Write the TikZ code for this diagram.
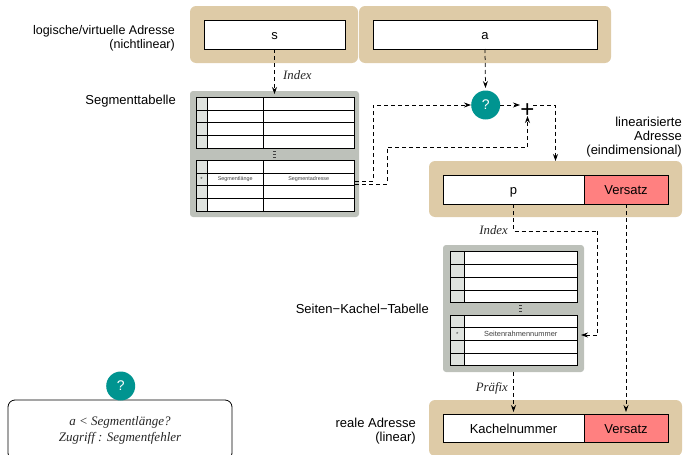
\documentclass[tikz,border=0pt]{standalone}
\usepackage{fontspec}
\setmainfont{Liberation Sans}
\newfontfamily\serifit{Liberation Serif}[ItalicFont=* Italic]
\usetikzlibrary{arrows.meta}
\definecolor{bandcol}{RGB}{222,203,167}
\definecolor{graycol}{RGB}{189,193,186}
\definecolor{lightcol}{RGB}{223,227,223}
\definecolor{tealcol}{RGB}{0,148,144}
\definecolor{redcol}{RGB}{255,128,128}
\newcommand{\bx}[7]{% name, x1, y1, x2, y2, style, text
  \pgfmathsetmacro{\bxcx}{(#2+#4)/2}\pgfmathsetmacro{\bxcy}{(#3+#5)/2}
  \pgfmathsetmacro{\bxw}{#4-#2}\pgfmathsetmacro{\bxh}{#5-#3}
  \node[#6,minimum width=\bxw pt,minimum height=\bxh pt] (#1) at (\bxcx,\bxcy) {#7};}
\tikzset{
  x=1pt,y=-1pt,
  band/.style={fill=bandcol,rounded corners=6pt,inner sep=0pt,outer sep=0pt},
  tablebg/.style={fill=graycol,rounded corners=3pt,inner sep=0pt,outer sep=0pt},
  field/.style={draw=black,line width=0.8pt,fill=white,inner sep=0pt,outer sep=0pt,text height=10pt,text depth=0pt,font=\fontsize{13}{15}\selectfont},
  offsetfield/.style={field,fill=redcol},
  cellkey/.style={draw=black,line width=0.7pt,fill=lightcol,inner sep=0pt,outer sep=0pt,font=\fontsize{6}{7}\selectfont,text=black!75},
  cell/.style={draw=black,line width=0.7pt,fill=white,inner sep=0pt,outer sep=0pt,text=black!75},
  quest/.style={circle,fill=tealcol,text=white,minimum size=29pt,inner sep=0pt,font=\fontsize{14}{16}\selectfont},
  lbl/.style={align=right,anchor=east,inner sep=0pt,font=\fontsize{13}{14}\selectfont},
  itl/.style={inner sep=0pt,font=\serifit\itshape\fontsize{12.8}{14}\selectfont,text=black!85},
  conn/.style={draw=black,line width=0.75pt,dash pattern=on 4pt off 3pt},
  connarrow/.style={conn,-{Stealth[length=7pt,width=5pt,inset=2.5pt]}},
  dotmark/.style={fill=black!75},
}
\begin{document}
\begin{tikzpicture}
\useasboundingbox (0,0) rectangle (683,455);
\clip (0,0) rectangle (683,455);
% address bands
\bx{bands}{190}{6}{358}{63}{band}{}
\bx{banda}{359}{6}{611}{63}{band}{}
\bx{fs}{204}{20}{345}{49}{field}{s}
\bx{fa}{373}{20}{597}{49}{field}{a}
\bx{bandp}{429}{161}{682}{217}{band}{}
\bx{fp}{443}{175}{584}{204}{field}{p}
\bx{fv}{584}{175}{668}{204}{offsetfield}{Versatz}
\bx{bandr}{429}{400}{682}{456}{band}{}
\bx{fk}{443}{414}{584}{442}{field,text height=11pt}{Kachelnummer}
\bx{fw}{584}{414}{668}{442}{offsetfield,text height=11pt}{Versatz}
% segment table
\bx{segtab}{190}{91}{359}{217}{tablebg}{}
\foreach \ya/\yb/\nm in {97.3/110/a,110/122.5/b,122.5/135/c,135/148/d,160/173/e,185.7/198.3/g,198.3/211/h}{
  \bx{s1\nm}{196}{\ya}{207}{\yb}{cellkey}{}
  \bx{s2\nm}{207}{\ya}{263.5}{\yb}{cell}{}
  \bx{s3\nm}{263.5}{\ya}{354}{\yb}{cell}{}
}
\bx{s1f}{196}{173}{207}{185.7}{cellkey}{*}
\bx{s2f}{207}{173}{263.5}{185.7}{cell,font=\fontsize{5.4}{6}\selectfont}{Segmentlänge}
\bx{s3f}{263.5}{173}{354}{185.7}{cell,font=\fontsize{5.4}{6}\selectfont}{Segmentadresse}
\foreach \d in {151.5,154.5,157.5}{\fill[dotmark] (273.2,\d-0.5) rectangle (276.2,\d+0.5);}
% page table
\bx{ptab}{443}{245}{584}{372}{tablebg}{}
\foreach \ya/\yb/\nm in {251.7/264.5/a,264.5/277/b,277/290/c,290/302.3/d,315/327.7/e,340.5/353/g,353/365.5/h}{
  \bx{p1\nm}{450}{\ya}{464.5}{\yb}{cellkey}{}
  \bx{p2\nm}{464.5}{\ya}{577}{\yb}{cell}{}
}
\bx{p1f}{450}{327.7}{464.5}{340.5}{cellkey}{*}
\bx{p2f}{464.5}{327.7}{577}{340.5}{cell,font=\fontsize{7.4}{8}\selectfont}{Seitenrahmennummer}
\foreach \d in {305.5,308.5,311.5}{\fill[dotmark] (519.2,\d-0.5) rectangle (522.2,\d+0.5);}
% question marks and plus
\node[quest] (q1) at (485.7,105) {?};
\node[inner sep=0pt,font=\fontsize{24}{24}\selectfont] (plus) at (527.5,111) {+};
\bx{note}{8}{400}{232}{460}{draw=black,line width=0.8pt,fill=white,rounded corners=7pt,inner sep=0pt}{}
\node[inner sep=0pt,align=center,font=\serifit\itshape\fontsize{13}{16}\selectfont,text=black!85] (notetxt) at (120,430) {a < Segmentlänge?\\Zugriff : Segmentfehler};
\node[quest] (q2) at (120.7,386) {?};
% labels
\node[lbl,font=\fontsize{12.5}{14}\selectfont] (l1) at (175,38.5) {logische/virtuelle Adresse\\(nichtlinear)};
\node[lbl] (l2) at (176,101) {Segmenttabelle};
\node[lbl] (l3) at (682,137) {linearisierte\\Adresse\\(eindimensional)};
\node[lbl] (l4) at (429,309) {Seiten−Kachel−Tabelle};
\node[lbl] (l5) at (416,431) {reale Adresse\\(linear)};
\node[itl,anchor=west] (i1) at (283,75.5) {Index};
\node[itl,anchor=east] (i2) at (508,230) {Index};
\node[itl,anchor=east] (i3) at (508,388) {Präfix};
% connectors
\coordinate (c1) at (355,181);
\coordinate (c2) at (373,181);
\coordinate (c3) at (373,105);
\coordinate (c4) at (355,184);
\coordinate (c5) at (387,184);
\coordinate (c6) at (387,147);
\coordinate (c7) at (527.5,147);
\coordinate (c8) at (555.5,105);
\coordinate (c9) at (513.5,231);
\coordinate (c10) at (597.7,231);
\coordinate (c11) at (597.7,335);
\coordinate (t7) at (527.5,116);
\draw[connarrow] (fs.south) -- (274.5,94) coordinate (t1);
\draw[connarrow] (fa.south) -- (485.5,88) coordinate (t2);
\draw[connarrow] (c1) -- (c2) -- (c3) -- (q1.west);
\draw[connarrow] (c4) -- (c5) -- (c6) -- (c7) -- (t7);
\draw[connarrow] (q1.east) -- (520,105) coordinate (t3);
\draw[connarrow] (533,105) coordinate (c12) -- (c8) -- (bandp.north -| c8);
\draw[conn] (513.5,204) coordinate (c13) -- (c9) -- (c10);
\draw[connarrow] (c10) -- (c11) -- (581,335) coordinate (t4);
\draw[connarrow] (513.5,372) coordinate (c14) -- (513.5,412) coordinate (t5);
\draw[connarrow] (626,204) coordinate (c15) -- (626,412) coordinate (t6);
\end{tikzpicture}
\end{document}
